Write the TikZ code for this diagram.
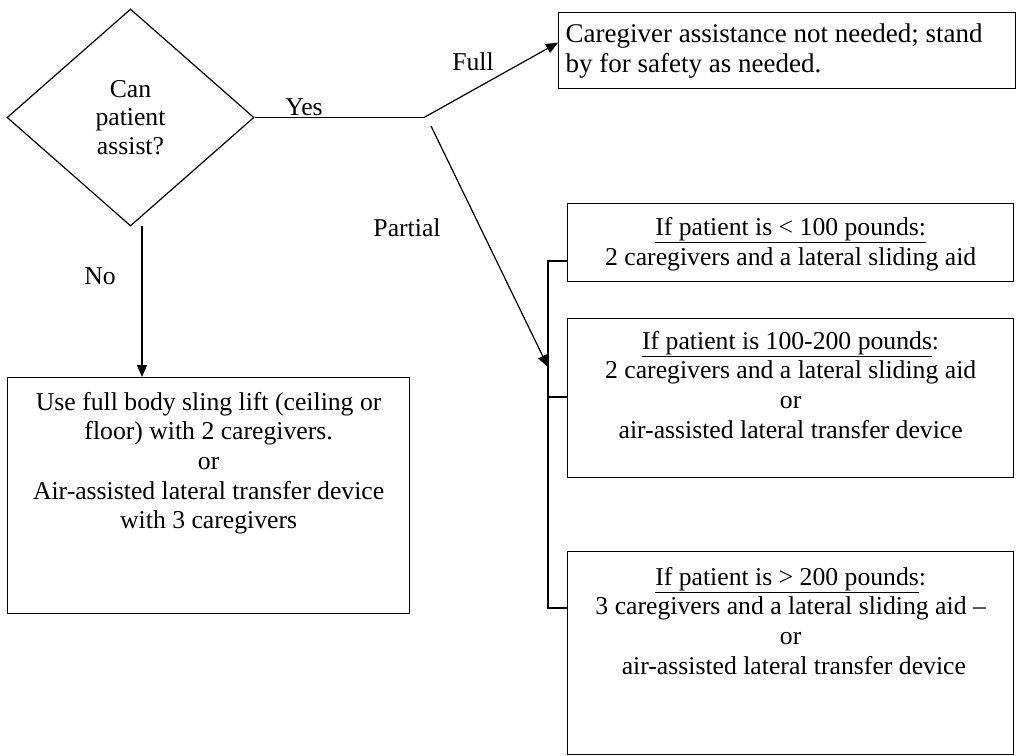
\documentclass[tikz,border=0pt]{standalone}
\usepackage{fontspec}
\setmainfont{Liberation Serif}
\usetikzlibrary{arrows.meta,shapes.geometric,calc}
\begin{document}
\begin{tikzpicture}[x=1bp,y=-1bp,
  every node/.style={font=\fontsize{25.7bp}{29.6bp}\selectfont},
  box/.style={draw,line width=1.3bp,rectangle,inner sep=0pt},
  txt/.style={inner sep=0pt,align=center},
  lbl/.style={inner sep=0pt},
  conn/.style={line width=1.2bp},
  arr/.style={conn,-{Triangle[length=12bp,width=10bp]}}]
\useasboundingbox (0,0) rectangle (1016,756);
% decision
\node[draw,diamond,line width=1.2bp,inner sep=0pt,minimum width=247bp,minimum height=217bp,align=center,font=\fontsize{25.7bp}{28.3bp}\selectfont] (dia) at (130.5,117.5) {Can\\patient\\assist?};
% boxes
\node[box,anchor=north west,minimum height=76bp,text width=443bp,inner xsep=7bp,align=flush left,font=\fontsize{27bp}{30bp}\selectfont] (fb) at (558,12) {Caregiver assistance not needed; stand\\by for safety as needed.};
\node[box,anchor=north west,minimum width=446bp,minimum height=78bp] (b1) at (567,203) {};
\node[box,anchor=north west,minimum width=446bp,minimum height=159bp] (b2) at (567,318) {};
\node[box,anchor=north west,minimum width=446bp,minimum height=203bp] (b3) at (567,551) {};
\node[box,anchor=north west,minimum width=402bp,minimum height=236bp] (lb) at (7,377) {};
% box texts
\node[txt,anchor=north] (b1t) at (b1.north |- 0,217.5) {\underline{If patient is < 100 pounds:}\\2 caregivers and a lateral sliding aid};
\node[txt,anchor=north] (b2t) at (b2.north |- 0,331) {\underline{If patient is 100-200 pounds}:\\2 caregivers and a lateral sliding aid\\or\\air-assisted lateral transfer device};
\node[txt,anchor=north] (b3t) at (b3.north |- 0,567) {\underline{If patient is > 200 pounds}:\\3 caregivers and a lateral sliding aid –\\or\\\ air-assisted lateral transfer device};
\node[txt,anchor=north] (lbt) at (lb.north |- 0,392) {Use full body sling lift (ceiling or\\floor) with 2 caregivers.\\or\\Air-assisted lateral transfer device\\with 3 caregivers};
% labels
\node[lbl] (yes) at (304,107) {Yes};
\node[lbl] (full) at (473,62) {Full};
\node[lbl] (partial) at (407,228) {Partial};
\node[lbl] (no) at (100,276) {No};
% connectors
\coordinate (j) at (424,117.5);
\coordinate (p0) at (431,126);
\coordinate (br1) at (548,261);
\coordinate (br2) at (548,397);
\coordinate (br3) at (548,608);
\coordinate (pt) at (548,367);
\coordinate (n0) at (142,226);
\draw[conn] (dia.east) -- (j);
\draw[arr] (j) -- ([yshift=8bp]fb.west);
\draw[arr] (p0) -- (pt);
\draw[conn] (b1.west |- br1) -- (br1) -- (br3) -- (b3.west |- br3);
\draw[conn] (br2) -- (b2.west |- br2);
\draw[arr] (n0) -- (n0 |- lb.north);
\end{tikzpicture}
\end{document}
